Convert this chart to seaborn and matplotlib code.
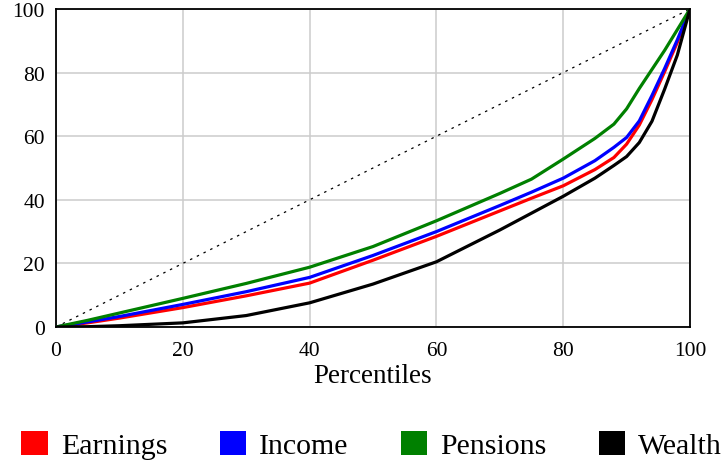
import matplotlib
matplotlib.use("Agg")
import matplotlib.pyplot as plt
from matplotlib.patches import Patch
import seaborn as sns
import pandas as pd

# Lorenz curves: cumulative share (%) held by the bottom x percent
percentiles = [0, 5, 10, 20, 30, 40, 50, 60, 70, 75, 80, 85, 88, 90, 92, 94, 96, 98, 100]
earnings = [0, 1.3, 2.8, 6.1, 9.8, 13.8, 21.0, 28.5, 36.5, 40.5, 44.4, 49.5, 53.3, 57.5, 63.5, 71.5, 80.3, 89.5, 100]
income = [0, 1.6, 3.3, 7.1, 11.1, 15.6, 22.5, 30.0, 38.2, 42.4, 46.8, 52.3, 56.5, 59.6, 64.8, 72.8, 81.3, 90.3, 100]
pensions = [0, 2.1, 4.4, 9.0, 13.7, 18.8, 25.3, 33.4, 42.0, 46.5, 52.8, 59.3, 63.8, 68.6, 75.0, 81.0, 87.0, 93.5, 100]
wealth = [0, 0.1, 0.4, 1.3, 3.6, 7.6, 13.5, 20.5, 30.5, 35.8, 41.1, 46.8, 50.8, 53.6, 58.0, 64.7, 74.8, 85.5, 100]

series_names = ["Earnings", "Income", "Pensions", "Wealth"]
series_colors = ["#ff0000", "#0000ff", "#008000", "#000000"]
equality = [0, 100]
x_ticks = [0, 20, 40, 60, 80, 100]

df = pd.concat(
    [
        pd.DataFrame({"Percentiles": percentiles, "Share": vals, "Series": name})
        for name, vals in zip(series_names, [earnings, income, pensions, wealth])
    ],
    ignore_index=True,
)

sns.set_theme(style="whitegrid")
plt.rcParams["font.family"] = ["Liberation Serif", "DejaVu Serif"]
plt.rcParams["text.color"] = "black"

fig = plt.figure(figsize=(7.26, 4.64), dpi=100)
ax = fig.add_axes([56 / 726, 1 - 328 / 464, (690 - 56) / 726, (328 - 10) / 464])

# line of perfect equality
ax.plot(equality, equality, color="black", lw=0.9, linestyle=(0, (2, 4)), zorder=2)

sns.lineplot(
    data=df, x="Percentiles", y="Share", hue="Series",
    palette=dict(zip(series_names, series_colors)),
    hue_order=series_names, lw=2.3, legend=False, ax=ax, zorder=3,
)

ax.set_xlim(0, 100)
ax.set_ylim(0, 100)
ax.set_xticks(x_ticks)
ax.set_yticks(x_ticks)
ax.set_xlabel("Percentiles", fontsize=19.5, color="black", labelpad=2)
ax.set_ylabel("")
ax.tick_params(axis="x", length=0, labelsize=15.5, colors="black", pad=10)
ax.tick_params(axis="y", length=0, labelsize=15.5, colors="black", pad=8)
ax.grid(True, color="#cccccc", lw=1.1)
for sp in ax.spines.values():
    sp.set_visible(True)
    sp.set_color("black")
    sp.set_linewidth(1.3)

handles = [Patch(facecolor=c, edgecolor="none") for c in series_colors]
leg = fig.legend(
    handles, series_names, loc="center", bbox_to_anchor=(0.512, 0.038),
    ncol=4, frameon=False, fontsize=21.5, handlelength=0.9, handleheight=0.85,
    handletextpad=0.43, columnspacing=1.74, borderaxespad=0, borderpad=0,
)
for t in leg.get_texts():
    t.set_color("black")

fig.savefig("out.png", dpi=100)
